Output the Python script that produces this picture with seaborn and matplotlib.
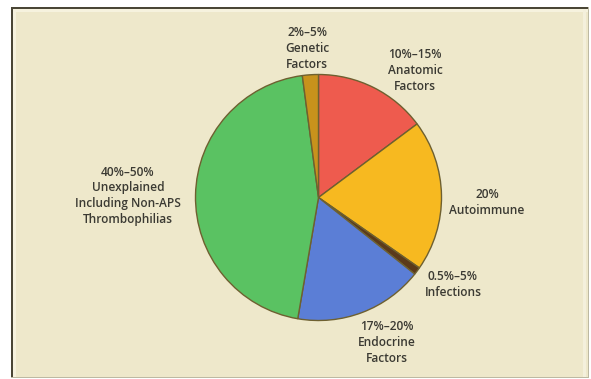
import numpy as np
import seaborn as sns
import matplotlib.pyplot as plt
from matplotlib.patches import Rectangle

sns.set_theme(style="white")
plt.rcParams['font.family'] = ['Open Sans', 'DejaVu Sans']

# slices, clockwise from 12 o'clock
causes = ["Anatomic", "Autoimmune", "Infections", "Endocrine", "Unexplained", "Genetic"]
shares = [14.8, 19.9, 1.0, 17.0, 45.2, 2.1]
labels = ["10%\u201315%\nAnatomic\nFactors",
          "20%\nAutoimmune",
          "0.5%\u20135%\nInfections",
          "17%\u201320%\nEndocrine\nFactors",
          "40%\u201350%\nUnexplained\nIncluding Non-APS\nThrombophilias",
          "2%\u20135%\nGenetic\nFactors"]
colors = sns.color_palette(["#EE5B4E", "#F7B920", "#5B3A1A", "#5B7ED6", "#5AC262", "#C8921C"])

# label anchors in pixel space (x, y from bottom)
label_xy = [(415, 309), (487, 177), (453, 94), (387, 36), (128, 183), (307, 331)]

fig = plt.figure(figsize=(5.91, 3.79), dpi=100)
fig.patch.set_facecolor("white")
ax = fig.add_axes([0, 0, 1, 1])

# cream panel: dark edge top/left, pale grey edge right/bottom
ax.add_patch(Rectangle((11, 1), 578, 371, facecolor="#BDB9A2", edgecolor="none", zorder=0))
ax.add_patch(Rectangle((11, 2), 577, 370, facecolor="#4A4636", edgecolor="none", zorder=0))
ax.add_patch(Rectangle((13, 2), 575, 368, facecolor="#EEE8CB", edgecolor="none", zorder=0))
ax.add_patch(Rectangle((13, 2), 3, 368, facecolor="#F6F2DE", edgecolor="none", zorder=0))
ax.add_patch(Rectangle((13, 367), 575, 3, facecolor="#F6F2DE", edgecolor="none", zorder=0))
ax.add_patch(Rectangle((583, 2), 3, 368, facecolor="#F4F0DC", edgecolor="none", zorder=0))

ax.pie(shares, colors=colors, startangle=90, counterclock=False,
       center=(318.5, 181.5), radius=123, frame=True,
       wedgeprops=dict(edgecolor="#6E6030", linewidth=1.0))
ax.set_xlim(0, 591)
ax.set_ylim(0, 379)
ax.set_aspect("equal")
ax.axis("off")

for txt, (x, y) in zip(labels, label_xy):
    ax.text(x, y, txt, ha="center", va="center", fontsize=8.6,
            color="#3B3A33", linespacing=1.3, fontweight="semibold")

fig.savefig("out.png", dpi=100, facecolor="white")
